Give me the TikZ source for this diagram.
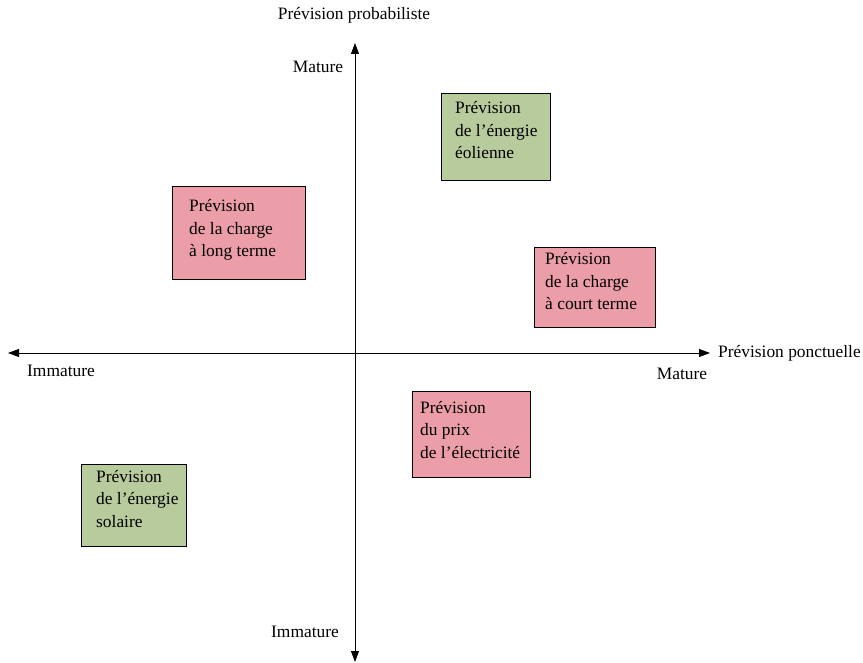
\documentclass[tikz,border=0pt]{standalone}
\usepackage{fontspec}
\setmainfont{Liberation Serif}
\usetikzlibrary{arrows.meta}
\definecolor{boxgreen}{HTML}{B8CB9C}
\definecolor{boxpink}{HTML}{EB9EA8}
\tikzset{
  every node/.style={font=\fontsize{17.4}{22.5}\selectfont},
  quadbox/.style={draw=black, line width=0.8pt, anchor=north west, inner sep=0pt},
  greenbox/.style={quadbox, fill=boxgreen},
  pinkbox/.style={quadbox, fill=boxpink},
  boxtext/.style={anchor=base west, inner sep=0pt, align=left},
  axis/.style={line width=0.8pt, -{Triangle[length=11pt,width=8pt]}},
  lbl/.style={inner sep=0pt}
}
\begin{document}
\begin{tikzpicture}[x=1pt,y=-1pt]
\useasboundingbox (0,0) rectangle (863,663);
% axes
\coordinate (c) at (355,353);
\coordinate (left) at (8,353);
\coordinate (right) at (710,353);
\coordinate (top) at (355,43);
\coordinate (bot) at (355,662);
\draw[axis] (c) -- (left);
\draw[axis] (c) -- (right);
\draw[axis] (c) -- (top);
\draw[axis] (c) -- (bot);
% axis labels
\node[lbl, anchor=base] (ptitle) at (354,20) {Prévision probabiliste};
\node[lbl, anchor=base] (vtop) at (318,73) {Mature};
\node[lbl, anchor=base] (vbot) at (305,637) {Immature};
\node[lbl, anchor=base] (hleft) at (61,377) {Immature};
\node[lbl, anchor=base] (hright) at (682,379) {Mature};
\node[lbl, anchor=base west] (htitle) at (718,358) {Prévision ponctuelle};
% boxes (text anchored at the baseline of its last line)
\node[greenbox, minimum width=109pt, minimum height=87pt] (wind) at (441,93) {};
\node[boxtext] (windt) at (455,159) {Prévision\\de l’énergie\\éolienne};
\node[pinkbox, minimum width=133pt, minimum height=93pt] (longt) at (172,186) {};
\node[boxtext] (longtt) at (189,257) {Prévision\\de la charge\\à long terme};
\node[pinkbox, minimum width=121pt, minimum height=80pt] (short) at (534,247) {};
\node[boxtext] (shortt) at (545,310) {Prévision\\de la charge\\à court terme};
\node[pinkbox, minimum width=118pt, minimum height=86pt] (prix) at (412,391) {};
\node[boxtext] (prixt) at (420,458) {Prévision\\du prix\\de l’électricité};
\node[greenbox, minimum width=105pt, minimum height=82pt] (solar) at (81,464) {};
\node[boxtext] (solart) at (96,527) {Prévision\\de l’énergie\\solaire};
\end{tikzpicture}
\end{document}
